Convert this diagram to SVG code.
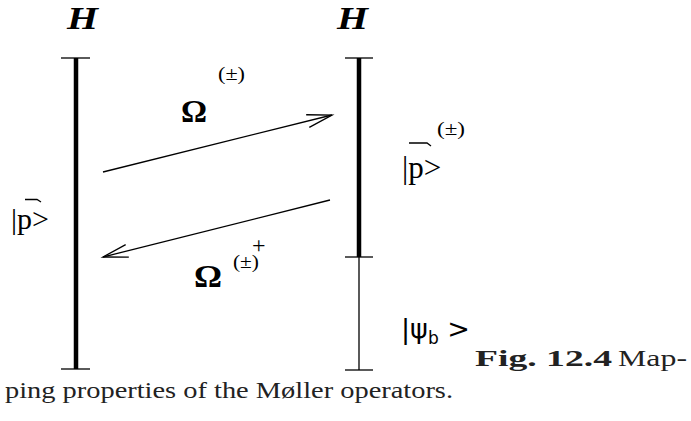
<svg xmlns="http://www.w3.org/2000/svg" width="691" height="421" viewBox="0 0 691 421">
<defs>
<style>
.H{font-family:"Liberation Serif",serif;font-weight:bold;font-style:italic;font-size:31px;fill:#000}
.om{font-family:"Liberation Serif",serif;font-weight:bold;font-size:32px;fill:#000}
.sup{font-family:"Liberation Serif",serif;font-size:18px;fill:#000}
.lab{font-family:"Liberation Serif",serif;font-size:30px;fill:#000}
.cap{font-family:"Liberation Serif",serif;font-size:24px;fill:#222}
.thick{stroke:#000;stroke-width:4.5;fill:none}
.thin{stroke:#000;stroke-width:1.3;fill:none}
</style>
<marker id="ah" markerUnits="userSpaceOnUse" markerWidth="30" markerHeight="20" viewBox="-26 -10 30 20" refX="0" refY="0" orient="auto">
<path d="M -25 -6.5 L 0 0 L -25 6.5" fill="none" stroke="#000" stroke-width="1.3"/>
</marker>
</defs>
<rect width="691" height="421" fill="#fff"/>
<g id="H-left"><text class="H" x="67" y="29" textLength="31" lengthAdjust="spacingAndGlyphs">H</text></g>
<g id="H-right"><text class="H" x="337" y="29" textLength="31" lengthAdjust="spacingAndGlyphs">H</text></g>
<g id="left-space">
<line class="thick" x1="76" y1="58" x2="76" y2="369"/>
<line class="thin" x1="61" y1="58" x2="90" y2="58"/>
<line class="thin" x1="61" y1="369" x2="90" y2="369"/>
</g>
<g id="right-space">
<line class="thick" x1="359" y1="58" x2="359" y2="257"/>
<line class="thin" x1="359" y1="257" x2="359" y2="370"/>
<line class="thin" x1="345" y1="58" x2="373" y2="58"/>
<line class="thin" x1="345" y1="257" x2="373" y2="257"/>
<line class="thin" x1="345" y1="370" x2="373" y2="370"/>
</g>
<g id="connectors">
<line class="thin" x1="103" y1="172" x2="332" y2="115" marker-end="url(#ah)"/>
<line class="thin" x1="330" y1="200" x2="103" y2="257" marker-end="url(#ah)"/>
</g>
<g id="omega-upper">
<text class="om" x="181" y="122" textLength="26" lengthAdjust="spacingAndGlyphs">Ω</text>
<text class="sup" x="218" y="80" textLength="27" lengthAdjust="spacingAndGlyphs">(±)</text>
</g>
<g id="omega-lower">
<text class="om" x="194" y="287" textLength="28" lengthAdjust="spacingAndGlyphs">Ω</text>
<text class="sup" x="233" y="268" textLength="26" lengthAdjust="spacingAndGlyphs">(±)</text>
<text class="sup" x="252" y="253" style="font-size:24px">+</text>
</g>
<g id="label-p-left">
<text class="lab" x="11" y="229">|p&gt;</text>
<path class="thin" d="M 25 199.5 L 37 199.5 L 41 202"/>
</g>
<g id="label-p-right">
<text class="lab" x="402" y="178" style="font-size:31px">|p&gt;</text>
<path class="thin" d="M 409 143 L 427 143 L 431 146"/>
<text class="sup" x="437" y="135" textLength="28" lengthAdjust="spacingAndGlyphs">(±)</text>
</g>
<g id="label-psi">
<text x="401" y="338" style="font-family:'DejaVu Sans',sans-serif;font-size:27px">|ψ<tspan dy="6" style="font-size:17px">b</tspan><tspan dy="-6"> &gt;</tspan></text>
</g>
<g id="caption">
<text class="cap" x="475" y="366" font-weight="bold" textLength="137" lengthAdjust="spacingAndGlyphs">Fig. 12.4</text>
<text class="cap" x="618" y="366" textLength="69" lengthAdjust="spacingAndGlyphs">Map-</text>
<text class="cap" x="5" y="398" textLength="448" lengthAdjust="spacingAndGlyphs">ping properties of the Møller operators.</text>
</g>
</svg>
